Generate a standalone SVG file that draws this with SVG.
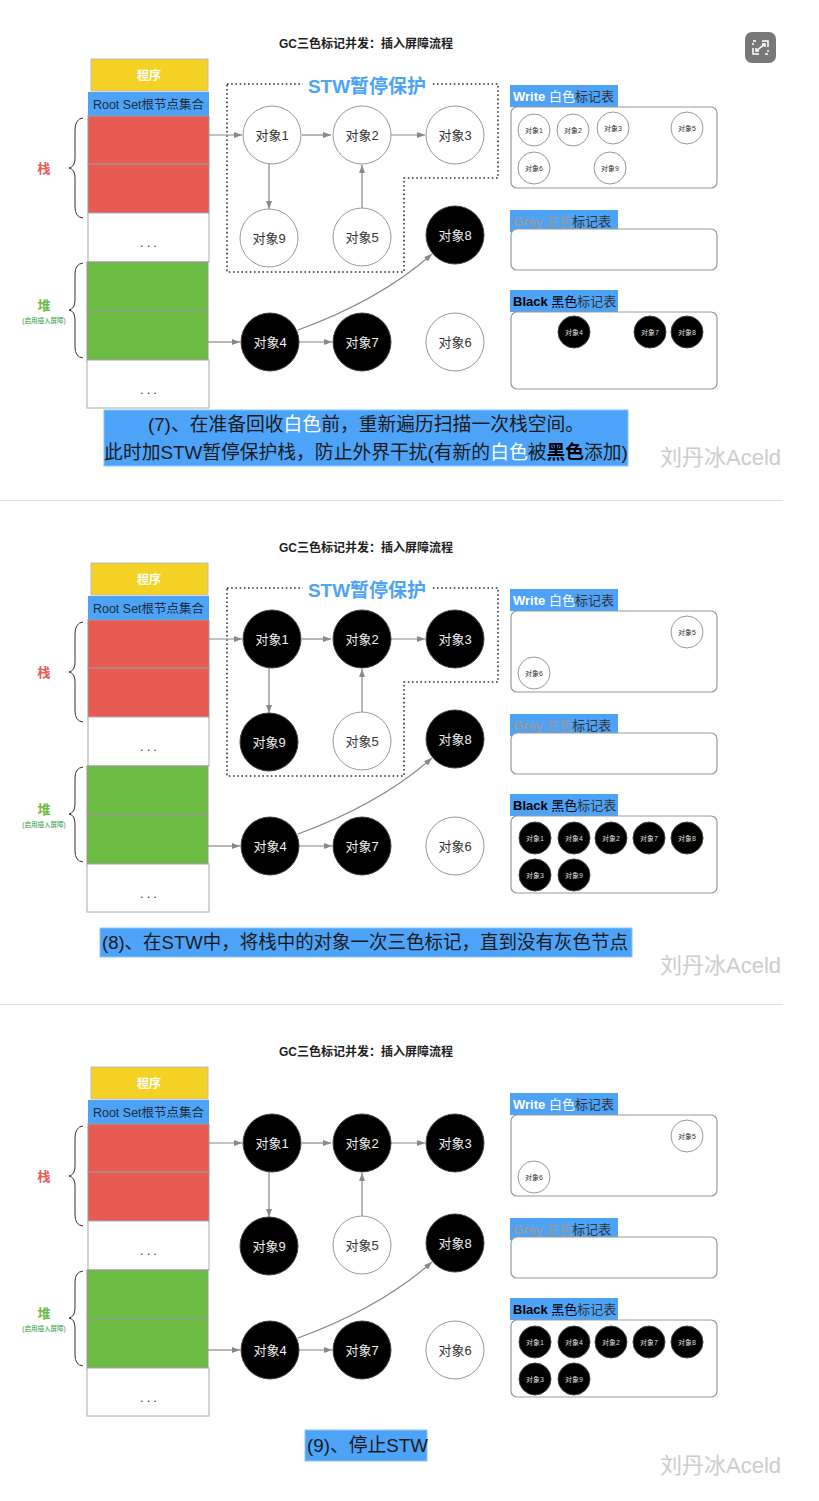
<svg xmlns="http://www.w3.org/2000/svg" width="819" height="1501" viewBox="0 0 819 1501">
<defs>
<style>
text{font-family:"Liberation Sans","Noto Sans CJK SC",sans-serif}
.title{font-size:12px;font-weight:bold;fill:#222;text-anchor:middle}
.prog{fill:#F4D225;stroke:#bbb;stroke-width:1}
.blue{fill:#4DA3F7}
.red{fill:#E85B53;stroke:#999;stroke-width:1}
.grn{fill:#6CBB43;stroke:#999;stroke-width:1}
.wcell{fill:#fff;stroke:#aaa;stroke-width:1}
.dots{font-size:13px;fill:#333;text-anchor:middle;letter-spacing:3px}
.brace{fill:none;stroke:#333;stroke-width:1}
.stw{fill:none;stroke:#333;stroke-width:1.6;stroke-dasharray:1.6 2.6}
.stwt{font-size:19px;font-weight:bold;fill:#4DA3F7;text-anchor:middle}
.conn{fill:none;stroke:#888;stroke-width:1.2}
.nw{fill:#fff;stroke:#999;stroke-width:1}
.nb{fill:#000;stroke:#444;stroke-width:1}
.tw{font-size:13px;fill:#333;text-anchor:middle}
.tb{font-size:13px;fill:#eee;text-anchor:middle}
.sw{font-size:7px;fill:#333;text-anchor:middle}
.sb{font-size:7px;fill:#ddd;text-anchor:middle}
.tbl{fill:#fff;stroke:#999;stroke-width:1.2}
.lbl{font-size:13px;fill:#333}
.cap{font-size:18.8px;fill:#1a1a1a}
.wm{font-size:22px;fill:#cccccc}
</style>
<marker id="ah" markerWidth="8" markerHeight="6" refX="8" refY="3" orient="auto" markerUnits="userSpaceOnUse">
<path d="M0,0 L8,3 L0,6 z" fill="#888"/>
</marker>
</defs>
<rect width="819" height="1501" fill="#fff"/>

<!-- expand icon -->
<g id="expand-icon">
<rect x="745" y="32" width="31" height="31" rx="7" fill="#787878"/>
<path d="M762,41 H768 V47 M753,48 V54 H759 M756,51 L765,44 M762,44 H765 V47 M756,48 V51 H759" fill="none" stroke="#fff" stroke-width="1.5"/>
<path d="M753,45 V43 M753,41 H756 M768,50 V52 M768,54 H765" fill="none" stroke="#fff" stroke-width="1.5"/>
</g>

<line x1="0" y1="500.5" x2="783" y2="500.5" stroke="#e2e2e2" stroke-width="1"/>
<line x1="0" y1="1004.5" x2="783" y2="1004.5" stroke="#e2e2e2" stroke-width="1"/>

<!-- ================= PANEL 1 ================= -->
<g id="p1">
<text class="title" x="366" y="48">GC三色标记并发：插入屏障流程</text>
<g id="p1-program"><rect class="prog" x="91" y="59" width="117" height="32"/><text x="149" y="80" font-size="12" font-weight="bold" fill="#fff" text-anchor="middle">程序</text></g>
<g id="p1-rootset"><rect class="blue" x="88" y="92" width="121" height="24"/><text x="148.5" y="109" font-size="12.5" fill="#1d2b3a" text-anchor="middle">Root Set根节点集合</text></g>
<g id="p1-stack">
<rect class="red" x="88" y="116" width="121" height="48"/>
<rect class="red" x="88" y="164" width="121" height="49"/>
<rect class="wcell" x="88" y="213" width="121" height="49"/><text class="dots" x="150" y="247">...</text>
<rect class="grn" x="87" y="262" width="121" height="49"/>
<rect class="grn" x="87" y="311" width="121" height="49"/>
<rect class="wcell" x="87" y="360" width="122" height="48"/><text class="dots" x="150" y="394">...</text>
<path class="brace" d="M83,118 Q75,119 75,130 L75,158 Q75,167 69,168 Q75,169 75,178 L75,207 Q75,217 83,218"/>
<path class="brace" d="M83,263 Q75,264 75,274 L75,300 Q75,309 69,310 Q75,311 75,320 L75,347 Q75,357 83,358"/>
<text x="44" y="173" font-size="13" font-weight="bold" fill="#E85B53" text-anchor="middle">栈</text>
<text x="44" y="310" font-size="13" font-weight="bold" fill="#6CBB43" text-anchor="middle">堆</text>
<text x="44" y="323" font-size="6.5" fill="#2e9a3e" text-anchor="middle">(启用插入屏障)</text>
</g>
<g id="p1-stw">
<path class="stw" d="M227,84 H498 V178 H404 V272 H227 Z"/>
<rect x="303" y="74" width="128" height="22" fill="#fff"/>
<text class="stwt" x="367" y="93">STW暂停保护</text>
</g>
<g id="p1-connectors">
<line class="conn" x1="209" y1="135" x2="242" y2="135" marker-end="url(#ah)"/>
<line class="conn" x1="302" y1="135" x2="331" y2="135" marker-end="url(#ah)"/>
<line class="conn" x1="391" y1="135" x2="425" y2="135" marker-end="url(#ah)"/>
<line class="conn" x1="269" y1="164" x2="269" y2="209" marker-end="url(#ah)"/>
<line class="conn" x1="362" y1="208" x2="362" y2="165" marker-end="url(#ah)"/>
<line class="conn" x1="208" y1="342" x2="240" y2="342" marker-end="url(#ah)"/>
<line class="conn" x1="299" y1="342" x2="332" y2="342" marker-end="url(#ah)"/>
<path class="conn" d="M298,330 Q380,300 432,254" marker-end="url(#ah)"/>
</g>
<g id="p1-obj1"><circle class="nw" cx="272" cy="135" r="29"/><text class="tw" x="272" y="140">对象1</text></g>
<g id="p1-obj2"><circle class="nw" cx="362" cy="135" r="29"/><text class="tw" x="362" y="140">对象2</text></g>
<g id="p1-obj3"><circle class="nw" cx="455" cy="135" r="29"/><text class="tw" x="455" y="140">对象3</text></g>
<g id="p1-obj9"><circle class="nw" cx="269" cy="238" r="29"/><text class="tw" x="269" y="243">对象9</text></g>
<g id="p1-obj5"><circle class="nw" cx="362" cy="237" r="29"/><text class="tw" x="362" y="242">对象5</text></g>
<g id="p1-obj8"><circle class="nb" cx="455" cy="235" r="29"/><text class="tb" x="455" y="240">对象8</text></g>
<g id="p1-obj4"><circle class="nb" cx="270" cy="342" r="29"/><text class="tb" x="270" y="347">对象4</text></g>
<g id="p1-obj7"><circle class="nb" cx="362" cy="342" r="29"/><text class="tb" x="362" y="347">对象7</text></g>
<g id="p1-obj6"><circle class="nw" cx="455" cy="342" r="29"/><text class="tw" x="455" y="347">对象6</text></g>
<g id="p1-white-table">
<rect class="blue" x="510" y="85" width="108" height="22"/>
<text class="lbl" x="513" y="101"><tspan fill="#fff" font-weight="bold">Write </tspan><tspan fill="#fff">白色</tspan>标记表</text>
<rect class="tbl" x="511" y="107" width="206" height="81" rx="6"/>
<circle class="nw" cx="534" cy="130" r="16"/><text class="sw" x="534" y="132.5">对象1</text>
<circle class="nw" cx="573" cy="130" r="16"/><text class="sw" x="573" y="132.5">对象2</text>
<circle class="nw" cx="613" cy="128" r="16"/><text class="sw" x="613" y="130.5">对象3</text>
<circle class="nw" cx="687" cy="128" r="16"/><text class="sw" x="687" y="130.5">对象5</text>
<circle class="nw" cx="534" cy="168" r="16"/><text class="sw" x="534" y="170.5">对象6</text>
<circle class="nw" cx="610" cy="168" r="16"/><text class="sw" x="610" y="170.5">对象9</text>
</g>
<g id="p1-grey-table">
<rect class="blue" x="510" y="210" width="108" height="22"/>
<text class="lbl" x="513" y="226"><tspan fill="#999" font-weight="bold">Grey </tspan><tspan fill="#999">灰色</tspan>标记表</text>
<rect class="tbl" x="511" y="229" width="206" height="41" rx="6"/>
</g>
<g id="p1-black-table">
<rect class="blue" x="510" y="290" width="108" height="22"/>
<text class="lbl" x="513" y="306"><tspan fill="#000" font-weight="bold">Black </tspan><tspan fill="#000">黑色</tspan>标记表</text>
<rect class="tbl" x="511" y="312" width="206" height="77" rx="6"/>
<circle class="nb" cx="574" cy="332" r="16"/><text class="sb" x="574" y="334.5">对象4</text>
<circle class="nb" cx="650" cy="332" r="16"/><text class="sb" x="650" y="334.5">对象7</text>
<circle class="nb" cx="687" cy="332" r="16"/><text class="sb" x="687" y="334.5">对象8</text>
</g>
<g id="p1-caption">
<rect x="104" y="410" width="524" height="56" fill="#4DA3F7" stroke="#8cc4fa" stroke-width="1"/>
<text class="cap" x="366" y="431" text-anchor="middle">(7)、在准备回收<tspan fill="#fff">白色</tspan>前，重新遍历扫描一次栈空间。</text>
<text class="cap" x="366" y="459" text-anchor="middle">此时加STW暂停保护栈，防止外界干扰(有新的<tspan fill="#fff">白色</tspan>被<tspan fill="#000" font-weight="bold">黑色</tspan>添加)</text>
</g>
<text class="wm" x="660" y="465">刘丹冰Aceld</text>
</g>

<!-- ================= PANEL 2 ================= -->
<g id="p2" transform="translate(0,504)">
<text class="title" x="366" y="48">GC三色标记并发：插入屏障流程</text>
<g id="p2-program"><rect class="prog" x="91" y="59" width="117" height="32"/><text x="149" y="80" font-size="12" font-weight="bold" fill="#fff" text-anchor="middle">程序</text></g>
<g id="p2-rootset"><rect class="blue" x="88" y="92" width="121" height="24"/><text x="148.5" y="109" font-size="12.5" fill="#1d2b3a" text-anchor="middle">Root Set根节点集合</text></g>
<g id="p2-stack">
<rect class="red" x="88" y="116" width="121" height="48"/>
<rect class="red" x="88" y="164" width="121" height="49"/>
<rect class="wcell" x="88" y="213" width="121" height="49"/><text class="dots" x="150" y="247">...</text>
<rect class="grn" x="87" y="262" width="121" height="49"/>
<rect class="grn" x="87" y="311" width="121" height="49"/>
<rect class="wcell" x="87" y="360" width="122" height="48"/><text class="dots" x="150" y="394">...</text>
<path class="brace" d="M83,118 Q75,119 75,130 L75,158 Q75,167 69,168 Q75,169 75,178 L75,207 Q75,217 83,218"/>
<path class="brace" d="M83,263 Q75,264 75,274 L75,300 Q75,309 69,310 Q75,311 75,320 L75,347 Q75,357 83,358"/>
<text x="44" y="173" font-size="13" font-weight="bold" fill="#E85B53" text-anchor="middle">栈</text>
<text x="44" y="310" font-size="13" font-weight="bold" fill="#6CBB43" text-anchor="middle">堆</text>
<text x="44" y="323" font-size="6.5" fill="#2e9a3e" text-anchor="middle">(启用插入屏障)</text>
</g>
<g id="p2-stw">
<path class="stw" d="M227,84 H498 V178 H404 V272 H227 Z"/>
<rect x="303" y="74" width="128" height="22" fill="#fff"/>
<text class="stwt" x="367" y="93">STW暂停保护</text>
</g>
<g id="p2-connectors">
<line class="conn" x1="209" y1="135" x2="242" y2="135" marker-end="url(#ah)"/>
<line class="conn" x1="302" y1="135" x2="331" y2="135" marker-end="url(#ah)"/>
<line class="conn" x1="391" y1="135" x2="425" y2="135" marker-end="url(#ah)"/>
<line class="conn" x1="269" y1="164" x2="269" y2="209" marker-end="url(#ah)"/>
<line class="conn" x1="362" y1="208" x2="362" y2="165" marker-end="url(#ah)"/>
<line class="conn" x1="208" y1="342" x2="240" y2="342" marker-end="url(#ah)"/>
<line class="conn" x1="299" y1="342" x2="332" y2="342" marker-end="url(#ah)"/>
<path class="conn" d="M298,330 Q380,300 432,254" marker-end="url(#ah)"/>
</g>
<g id="p2-obj1"><circle class="nb" cx="272" cy="135" r="29"/><text class="tb" x="272" y="140">对象1</text></g>
<g id="p2-obj2"><circle class="nb" cx="362" cy="135" r="29"/><text class="tb" x="362" y="140">对象2</text></g>
<g id="p2-obj3"><circle class="nb" cx="455" cy="135" r="29"/><text class="tb" x="455" y="140">对象3</text></g>
<g id="p2-obj9"><circle class="nb" cx="269" cy="238" r="29"/><text class="tb" x="269" y="243">对象9</text></g>
<g id="p2-obj5"><circle class="nw" cx="362" cy="237" r="29"/><text class="tw" x="362" y="242">对象5</text></g>
<g id="p2-obj8"><circle class="nb" cx="455" cy="235" r="29"/><text class="tb" x="455" y="240">对象8</text></g>
<g id="p2-obj4"><circle class="nb" cx="270" cy="342" r="29"/><text class="tb" x="270" y="347">对象4</text></g>
<g id="p2-obj7"><circle class="nb" cx="362" cy="342" r="29"/><text class="tb" x="362" y="347">对象7</text></g>
<g id="p2-obj6"><circle class="nw" cx="455" cy="342" r="29"/><text class="tw" x="455" y="347">对象6</text></g>
<g id="p2-white-table">
<rect class="blue" x="510" y="85" width="108" height="22"/>
<text class="lbl" x="513" y="101"><tspan fill="#fff" font-weight="bold">Write </tspan><tspan fill="#fff">白色</tspan>标记表</text>
<rect class="tbl" x="511" y="107" width="206" height="81" rx="6"/>
<circle class="nw" cx="687" cy="128" r="16"/><text class="sw" x="687" y="130.5">对象5</text>
<circle class="nw" cx="534" cy="169" r="16"/><text class="sw" x="534" y="171.5">对象6</text>
</g>
<g id="p2-grey-table">
<rect class="blue" x="510" y="210" width="108" height="22"/>
<text class="lbl" x="513" y="226"><tspan fill="#999" font-weight="bold">Grey </tspan><tspan fill="#999">灰色</tspan>标记表</text>
<rect class="tbl" x="511" y="229" width="206" height="41" rx="6"/>
</g>
<g id="p2-black-table">
<rect class="blue" x="510" y="290" width="108" height="22"/>
<text class="lbl" x="513" y="306"><tspan fill="#000" font-weight="bold">Black </tspan><tspan fill="#000">黑色</tspan>标记表</text>
<rect class="tbl" x="511" y="312" width="206" height="77" rx="6"/>
<circle class="nb" cx="535" cy="334" r="16"/><text class="sb" x="535" y="336.5">对象1</text>
<circle class="nb" cx="574" cy="334" r="16"/><text class="sb" x="574" y="336.5">对象4</text>
<circle class="nb" cx="611" cy="334" r="16"/><text class="sb" x="611" y="336.5">对象2</text>
<circle class="nb" cx="649" cy="334" r="16"/><text class="sb" x="649" y="336.5">对象7</text>
<circle class="nb" cx="687" cy="334" r="16"/><text class="sb" x="687" y="336.5">对象8</text>
<circle class="nb" cx="535" cy="371" r="16"/><text class="sb" x="535" y="373.5">对象3</text>
<circle class="nb" cx="574" cy="371" r="16"/><text class="sb" x="574" y="373.5">对象9</text>
</g>
<g id="p2-caption">
<rect x="100" y="424" width="532" height="29" fill="#4DA3F7" stroke="#8cc4fa" stroke-width="1"/>
<text class="cap" x="102" y="445" textLength="526" lengthAdjust="spacingAndGlyphs">(8)、在STW中，将栈中的对象一次三色标记，直到没有灰色节点</text>
</g>
<text class="wm" x="660" y="469">刘丹冰Aceld</text>
</g>

<!-- ================= PANEL 3 ================= -->
<g id="p3" transform="translate(0,1008)">
<text class="title" x="366" y="48">GC三色标记并发：插入屏障流程</text>
<g id="p3-program"><rect class="prog" x="91" y="59" width="117" height="32"/><text x="149" y="80" font-size="12" font-weight="bold" fill="#fff" text-anchor="middle">程序</text></g>
<g id="p3-rootset"><rect class="blue" x="88" y="92" width="121" height="24"/><text x="148.5" y="109" font-size="12.5" fill="#1d2b3a" text-anchor="middle">Root Set根节点集合</text></g>
<g id="p3-stack">
<rect class="red" x="88" y="116" width="121" height="48"/>
<rect class="red" x="88" y="164" width="121" height="49"/>
<rect class="wcell" x="88" y="213" width="121" height="49"/><text class="dots" x="150" y="247">...</text>
<rect class="grn" x="87" y="262" width="121" height="49"/>
<rect class="grn" x="87" y="311" width="121" height="49"/>
<rect class="wcell" x="87" y="360" width="122" height="48"/><text class="dots" x="150" y="394">...</text>
<path class="brace" d="M83,118 Q75,119 75,130 L75,158 Q75,167 69,168 Q75,169 75,178 L75,207 Q75,217 83,218"/>
<path class="brace" d="M83,263 Q75,264 75,274 L75,300 Q75,309 69,310 Q75,311 75,320 L75,347 Q75,357 83,358"/>
<text x="44" y="173" font-size="13" font-weight="bold" fill="#E85B53" text-anchor="middle">栈</text>
<text x="44" y="310" font-size="13" font-weight="bold" fill="#6CBB43" text-anchor="middle">堆</text>
<text x="44" y="323" font-size="6.5" fill="#2e9a3e" text-anchor="middle">(启用插入屏障)</text>
</g>
<g id="p3-connectors">
<line class="conn" x1="209" y1="135" x2="242" y2="135" marker-end="url(#ah)"/>
<line class="conn" x1="302" y1="135" x2="331" y2="135" marker-end="url(#ah)"/>
<line class="conn" x1="391" y1="135" x2="425" y2="135" marker-end="url(#ah)"/>
<line class="conn" x1="269" y1="164" x2="269" y2="209" marker-end="url(#ah)"/>
<line class="conn" x1="362" y1="208" x2="362" y2="165" marker-end="url(#ah)"/>
<line class="conn" x1="208" y1="342" x2="240" y2="342" marker-end="url(#ah)"/>
<line class="conn" x1="299" y1="342" x2="332" y2="342" marker-end="url(#ah)"/>
<path class="conn" d="M298,330 Q380,300 432,254" marker-end="url(#ah)"/>
</g>
<g id="p3-obj1"><circle class="nb" cx="272" cy="135" r="29"/><text class="tb" x="272" y="140">对象1</text></g>
<g id="p3-obj2"><circle class="nb" cx="362" cy="135" r="29"/><text class="tb" x="362" y="140">对象2</text></g>
<g id="p3-obj3"><circle class="nb" cx="455" cy="135" r="29"/><text class="tb" x="455" y="140">对象3</text></g>
<g id="p3-obj9"><circle class="nb" cx="269" cy="238" r="29"/><text class="tb" x="269" y="243">对象9</text></g>
<g id="p3-obj5"><circle class="nw" cx="362" cy="237" r="29"/><text class="tw" x="362" y="242">对象5</text></g>
<g id="p3-obj8"><circle class="nb" cx="455" cy="235" r="29"/><text class="tb" x="455" y="240">对象8</text></g>
<g id="p3-obj4"><circle class="nb" cx="270" cy="342" r="29"/><text class="tb" x="270" y="347">对象4</text></g>
<g id="p3-obj7"><circle class="nb" cx="362" cy="342" r="29"/><text class="tb" x="362" y="347">对象7</text></g>
<g id="p3-obj6"><circle class="nw" cx="455" cy="342" r="29"/><text class="tw" x="455" y="347">对象6</text></g>
<g id="p3-white-table">
<rect class="blue" x="510" y="85" width="108" height="22"/>
<text class="lbl" x="513" y="101"><tspan fill="#fff" font-weight="bold">Write </tspan><tspan fill="#fff">白色</tspan>标记表</text>
<rect class="tbl" x="511" y="107" width="206" height="81" rx="6"/>
<circle class="nw" cx="687" cy="128" r="16"/><text class="sw" x="687" y="130.5">对象5</text>
<circle class="nw" cx="534" cy="169" r="16"/><text class="sw" x="534" y="171.5">对象6</text>
</g>
<g id="p3-grey-table">
<rect class="blue" x="510" y="210" width="108" height="22"/>
<text class="lbl" x="513" y="226"><tspan fill="#999" font-weight="bold">Grey </tspan><tspan fill="#999">灰色</tspan>标记表</text>
<rect class="tbl" x="511" y="229" width="206" height="41" rx="6"/>
</g>
<g id="p3-black-table">
<rect class="blue" x="510" y="290" width="108" height="22"/>
<text class="lbl" x="513" y="306"><tspan fill="#000" font-weight="bold">Black </tspan><tspan fill="#000">黑色</tspan>标记表</text>
<rect class="tbl" x="511" y="312" width="206" height="77" rx="6"/>
<circle class="nb" cx="535" cy="334" r="16"/><text class="sb" x="535" y="336.5">对象1</text>
<circle class="nb" cx="574" cy="334" r="16"/><text class="sb" x="574" y="336.5">对象4</text>
<circle class="nb" cx="611" cy="334" r="16"/><text class="sb" x="611" y="336.5">对象2</text>
<circle class="nb" cx="649" cy="334" r="16"/><text class="sb" x="649" y="336.5">对象7</text>
<circle class="nb" cx="687" cy="334" r="16"/><text class="sb" x="687" y="336.5">对象8</text>
<circle class="nb" cx="535" cy="371" r="16"/><text class="sb" x="535" y="373.5">对象3</text>
<circle class="nb" cx="574" cy="371" r="16"/><text class="sb" x="574" y="373.5">对象9</text>
</g>
<g id="p3-caption">
<rect x="305" y="422" width="122" height="31" fill="#4DA3F7" stroke="#8cc4fa" stroke-width="1"/>
<text class="cap" x="307" y="444">(9)、停止STW</text>
</g>
<text class="wm" x="660" y="465">刘丹冰Aceld</text>
</g>
</svg>
